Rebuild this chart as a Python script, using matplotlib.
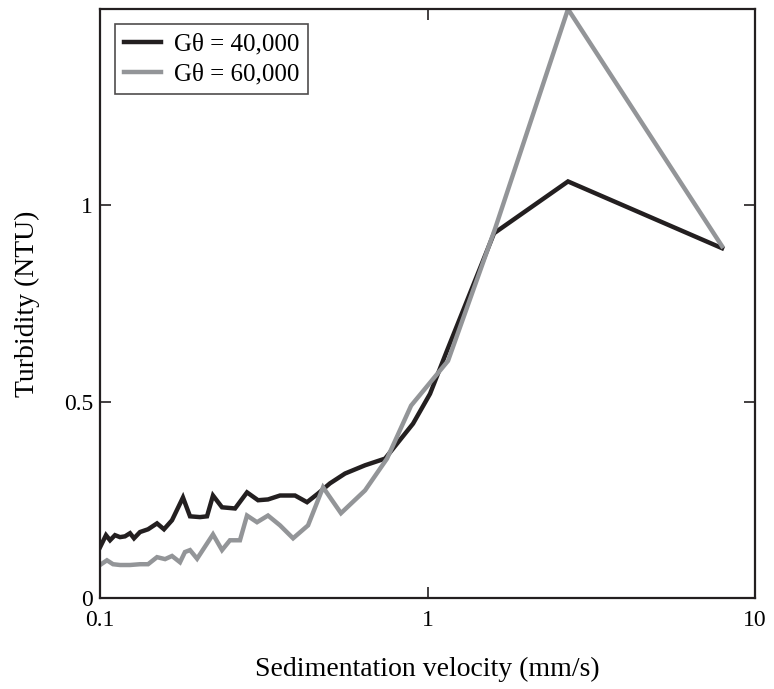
import matplotlib
matplotlib.use('Agg')
import matplotlib.pyplot as plt

# G theta = 40,000
v40 = [0.1, 0.1043, 0.1073, 0.1111, 0.1151, 0.1192, 0.1235, 0.127, 0.1325, 0.1402,
       0.1493, 0.1568, 0.1659, 0.1792, 0.1883, 0.202, 0.2122, 0.2213, 0.2358, 0.2584,
       0.2811, 0.3038, 0.3258, 0.3545, 0.394, 0.4287, 0.463, 0.5038, 0.56, 0.6445,
       0.7419, 0.9031, 1.0177, 1.1468, 1.596, 2.685, 7.93]
t40 = [0.129, 0.16, 0.147, 0.16, 0.155, 0.157, 0.165, 0.152, 0.168, 0.175,
       0.19, 0.175, 0.198, 0.256, 0.208, 0.206, 0.208, 0.261, 0.231, 0.228,
       0.269, 0.249, 0.251, 0.261, 0.261, 0.244, 0.266, 0.292, 0.317, 0.338,
       0.355, 0.444, 0.52, 0.63, 0.929, 1.061, 0.891]

# G theta = 60,000
v60 = [0.1, 0.105, 0.1096, 0.1151, 0.1235, 0.1325, 0.1402, 0.1493, 0.158, 0.1659,
       0.1755, 0.1817, 0.1883, 0.1979, 0.2213, 0.2358, 0.2493, 0.2675, 0.2811, 0.3016,
       0.3258, 0.3545, 0.3886, 0.4317, 0.4798, 0.5442, 0.6445, 0.7522, 0.891, 1.155,
       1.607, 2.685, 7.93]
t60 = [0.084, 0.096, 0.086, 0.084, 0.084, 0.086, 0.086, 0.104, 0.099, 0.107,
       0.091, 0.117, 0.122, 0.10, 0.162, 0.122, 0.147, 0.147, 0.21, 0.193,
       0.21, 0.185, 0.152, 0.185, 0.282, 0.216, 0.274, 0.355, 0.49, 0.604,
       0.94, 1.5, 0.896]

xticks = [0.1, 1, 10]
xticklabels = ['0.1', '1', '10']
yticks = [0, 0.5, 1]
yticklabels = ['0', '0.5', '1']

plt.rcParams['font.family'] = ['Liberation Serif', 'DejaVu Serif']

fig = plt.figure(figsize=(7.74, 6.89), dpi=100)
ax = fig.add_axes([0.1292, 0.1321, 0.8463, 0.8547])

ax.plot(v40, t40, color='#231f20', lw=3.2, label='G\u03b8 = 40,000', solid_joinstyle='miter')
ax.plot(v60, t60, color='#939598', lw=3.2, label='G\u03b8 = 60,000', solid_joinstyle='miter')

ax.set_xscale('log')
ax.set_xlim(0.1, 10)
ax.set_ylim(0, 1.5)
ax.set_xticks(xticks)
ax.set_xticklabels(xticklabels)
ax.set_yticks(yticks)
ax.set_yticklabels(yticklabels)
ax.minorticks_off()
ax.tick_params(direction='in', length=8, width=1.2, top=True, right=True,
               labelsize=17, color='#231f20')
ax.tick_params(axis='x', pad=9)
ax.tick_params(axis='y', pad=5)

for s in ax.spines.values():
    s.set_linewidth(1.6)
    s.set_color('#231f20')

ax.set_xlabel('Sedimentation velocity (mm/s)', fontsize=20, labelpad=18)
ax.set_ylabel('Turbidity (NTU)', fontsize=20, labelpad=17)

leg = ax.legend(loc='upper left', fontsize=18, frameon=True, fancybox=False,
                edgecolor='#231f20', handlelength=1.5, handletextpad=0.5,
                borderpad=0.35, labelspacing=0.3, borderaxespad=0.6)
leg.get_frame().set_linewidth(1.2)

fig.savefig('out.png', dpi=100)
